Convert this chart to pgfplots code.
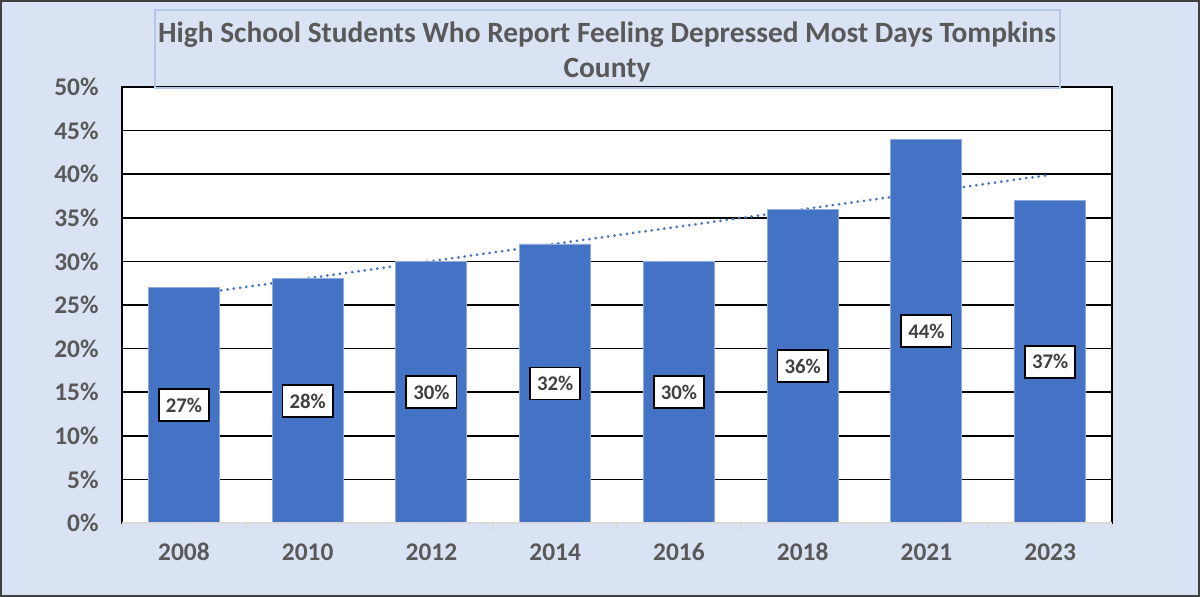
\documentclass[border=0pt]{standalone}
\usepackage{pgfplots}
\pgfplotsset{compat=1.18}
\usepackage{fontspec}
\setmainfont{Carlito}
\definecolor{bg}{HTML}{DAE3F3}
\definecolor{barblue}{HTML}{4472C4}
\definecolor{baredge}{HTML}{8FAADC}
\definecolor{txt}{HTML}{595959}
\definecolor{lbltxt}{HTML}{404040}
\definecolor{boxline}{HTML}{B4C7E7}
\begin{document}
\begin{tikzpicture}
\fill[bg] (0,0) rectangle (600pt,298.5pt);
\begin{axis}[at={(61pt,37pt)}, anchor=south west, scale only axis,
  width=495pt, height=218pt,
  xmin=-0.5, xmax=7.5, ymin=0, ymax=50,
  axis background/.style={fill=white},
  axis line style={draw=black, line width=0.8pt},
  ymajorgrids, grid style={black, line width=0.8pt},
  ytick={0,5,...,50},
  yticklabels={0\%,5\%,10\%,15\%,20\%,25\%,30\%,35\%,40\%,45\%,50\%},
  xtick={0,...,7},
  xticklabels={2008,2010,2012,2014,2016,2018,2021,2023},
  major tick length=0pt,
  minor xtick={-0.5,0.5,...,7.5},
  minor x tick style={draw=black!15, line width=0.8pt},
  minor tick length=3pt, tick align=outside,
  xtick pos=bottom, ytick pos=left,
  ytick style={draw=none},
  yticklabel style={anchor=east, inner sep=0pt, xshift=-11.5pt, font=\fontsize{12.7}{15}\selectfont\bfseries, text=txt},
  xticklabel style={anchor=center, inner sep=0pt, yshift=-14.5pt, font=\fontsize{12.7}{15}\selectfont\bfseries, text=txt},
  clip=false,
]
\addplot[barblue, line width=1.5pt, line cap=round, dash pattern=on 0pt off 3.15pt] coordinates {(0,26.08) (7,39.92)};
\addplot[ybar, bar width=35.5pt, fill=barblue, draw=baredge, line width=0.4pt] coordinates {
  (0,27) (1,28) (2,30) (3,32) (4,30) (5,36) (6,44) (7,37)};
\addplot[draw=none, mark=none, nodes near coords, point meta=explicit symbolic,
  every node near coord/.style={anchor=center, draw=black, line width=0.9pt, fill=white,
    inner xsep=3.5pt, inner ysep=0pt, minimum height=16pt, text=lbltxt,
    font=\fontsize{10.4}{12}\selectfont\bfseries}]
  coordinates {
  (0,13.5) [27\%] (1,14) [28\%] (2,15) [30\%] (3,16) [32\%]
  (4,15) [30\%] (5,18) [36\%] (6,22) [44\%] (7,18.5) [37\%]};
\draw[black!15, line width=0.8pt] (rel axis cs:0,0) -- (rel axis cs:1,0);
\end{axis}
\draw[boxline, line width=0.7pt] (77.5pt,254.5pt) rectangle (530pt,293.5pt);
\node[align=center, text=txt, font=\fontsize{14.7}{17.5}\selectfont\bfseries, inner sep=0pt]
  at (303.5pt,272.5pt) {High School Students Who Report Feeling Depressed Most Days Tompkins\\County};
\draw[black!75, line width=1pt] (0.5pt,0.5pt) rectangle (599.5pt,298pt);
\end{tikzpicture}
\end{document}
